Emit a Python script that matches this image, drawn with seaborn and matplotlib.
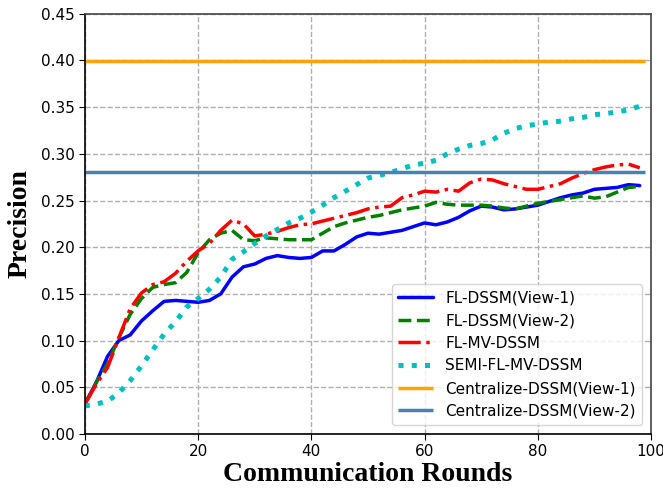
import numpy as np
import pandas as pd
import matplotlib
matplotlib.use("Agg")
import matplotlib.pyplot as plt
import seaborn as sns

# rounds sampled every 2 communication rounds
rounds = list(range(0, 100, 2))

fl_dssm_v1 = [0.032, 0.055, 0.083, 0.100, 0.106, 0.121, 0.132, 0.142, 0.143, 0.142,
              0.141, 0.143, 0.150, 0.168, 0.179, 0.182, 0.188, 0.191, 0.189, 0.188,
              0.189, 0.196, 0.196, 0.203, 0.211, 0.215, 0.214, 0.216, 0.218, 0.222,
              0.226, 0.224, 0.227, 0.232, 0.239, 0.244, 0.243, 0.240, 0.241, 0.243,
              0.245, 0.249, 0.253, 0.256, 0.258, 0.262, 0.263, 0.264, 0.267, 0.266]

fl_dssm_v2 = [0.032, 0.055, 0.075, 0.103, 0.128, 0.145, 0.157, 0.160, 0.162, 0.173,
              0.194, 0.208, 0.215, 0.218, 0.208, 0.207, 0.210, 0.209, 0.208, 0.208,
              0.208, 0.215, 0.222, 0.226, 0.229, 0.232, 0.234, 0.237, 0.240, 0.242,
              0.244, 0.248, 0.246, 0.245, 0.245, 0.245, 0.244, 0.242, 0.241, 0.244,
              0.247, 0.249, 0.251, 0.253, 0.255, 0.2525, 0.254, 0.259, 0.264, 0.265]

fl_mv_dssm = [0.032, 0.053, 0.071, 0.103, 0.134, 0.151, 0.160, 0.163, 0.172, 0.185,
              0.196, 0.204, 0.218, 0.229, 0.225, 0.212, 0.214, 0.217, 0.221, 0.224,
              0.225, 0.228, 0.231, 0.234, 0.237, 0.241, 0.243, 0.244, 0.253, 0.256,
              0.260, 0.259, 0.262, 0.260, 0.269, 0.273, 0.272, 0.268, 0.265, 0.262,
              0.262, 0.265, 0.268, 0.274, 0.279, 0.283, 0.286, 0.288, 0.289, 0.285]

semi_fl_mv_dssm = [0.030, 0.032, 0.035, 0.044, 0.057, 0.073, 0.090, 0.107, 0.120, 0.136,
                   0.145, 0.155, 0.168, 0.187, 0.195, 0.204, 0.212, 0.219, 0.226, 0.231,
                   0.2375, 0.245, 0.253, 0.260, 0.267, 0.274, 0.277, 0.280, 0.284, 0.288,
                   0.290, 0.293, 0.300, 0.305, 0.309, 0.311, 0.315, 0.322, 0.327, 0.330,
                   0.332, 0.334, 0.335, 0.3375, 0.339, 0.342, 0.343, 0.345, 0.347, 0.351]

centralize_v1 = 0.399
centralize_v2 = 0.281
last_round = 99

df = pd.DataFrame({"round": rounds, "v1": fl_dssm_v1, "v2": fl_dssm_v2,
                   "mv": fl_mv_dssm, "semi": semi_fl_mv_dssm})

sns.set_style("white")
plt.rcParams["text.color"] = "black"
plt.rcParams["xtick.color"] = "black"
plt.rcParams["ytick.color"] = "black"
plt.rcParams["axes.labelcolor"] = "black"

fig = plt.figure(figsize=(6.63, 4.92), dpi=100)
ax = fig.add_axes([0.128, 0.118, 0.854, 0.854])

sns.lineplot(data=df, x="round", y="v1", ax=ax, color="blue", lw=2.5, linestyle="-", label="FL-DSSM(View-1)")
sns.lineplot(data=df, x="round", y="v2", ax=ax, color="green", lw=2.5, linestyle="--", label="FL-DSSM(View-2)")
sns.lineplot(data=df, x="round", y="mv", ax=ax, color="red", lw=2.5, linestyle="-.", label="FL-MV-DSSM")
sns.lineplot(data=df, x="round", y="semi", ax=ax, color="c", lw=3.6, linestyle=":", label="SEMI-FL-MV-DSSM")
ax.hlines(centralize_v1, rounds[0], last_round, color="orange", lw=2.5, label="Centralize-DSSM(View-1)")
ax.hlines(centralize_v2, rounds[0], last_round, color="steelblue", lw=2.5, label="Centralize-DSSM(View-2)")

ax.set_xlim(0, 100)
ax.set_ylim(0, 0.45)
ax.set_xticks(range(0, 101, 20))
ax.set_yticks(np.arange(0, 0.46, 0.05))
ax.yaxis.set_major_formatter(matplotlib.ticker.FormatStrFormatter("%.2f"))
ax.tick_params(axis="both", labelsize=11, length=4, direction="out", left=True, bottom=True)
ax.grid(True, linestyle="--", color="#b0b0b0", lw=1)

for s in ax.spines.values():
    s.set_color("#444444")
    s.set_linewidth(1.2)
ax.spines["left"].set_color("black")
ax.spines["bottom"].set_color("black")

ax.set_xlabel("Communication Rounds", fontsize=20, fontweight="bold", family="Liberation Serif", labelpad=2)
ax.set_ylabel("Precision", fontsize=20, fontweight="bold", family="Liberation Serif", labelpad=6)

ax.legend(loc="lower right", fontsize=11, frameon=True, handlelength=2.3, borderaxespad=0.6)

fig.savefig("out.png", dpi=100)
